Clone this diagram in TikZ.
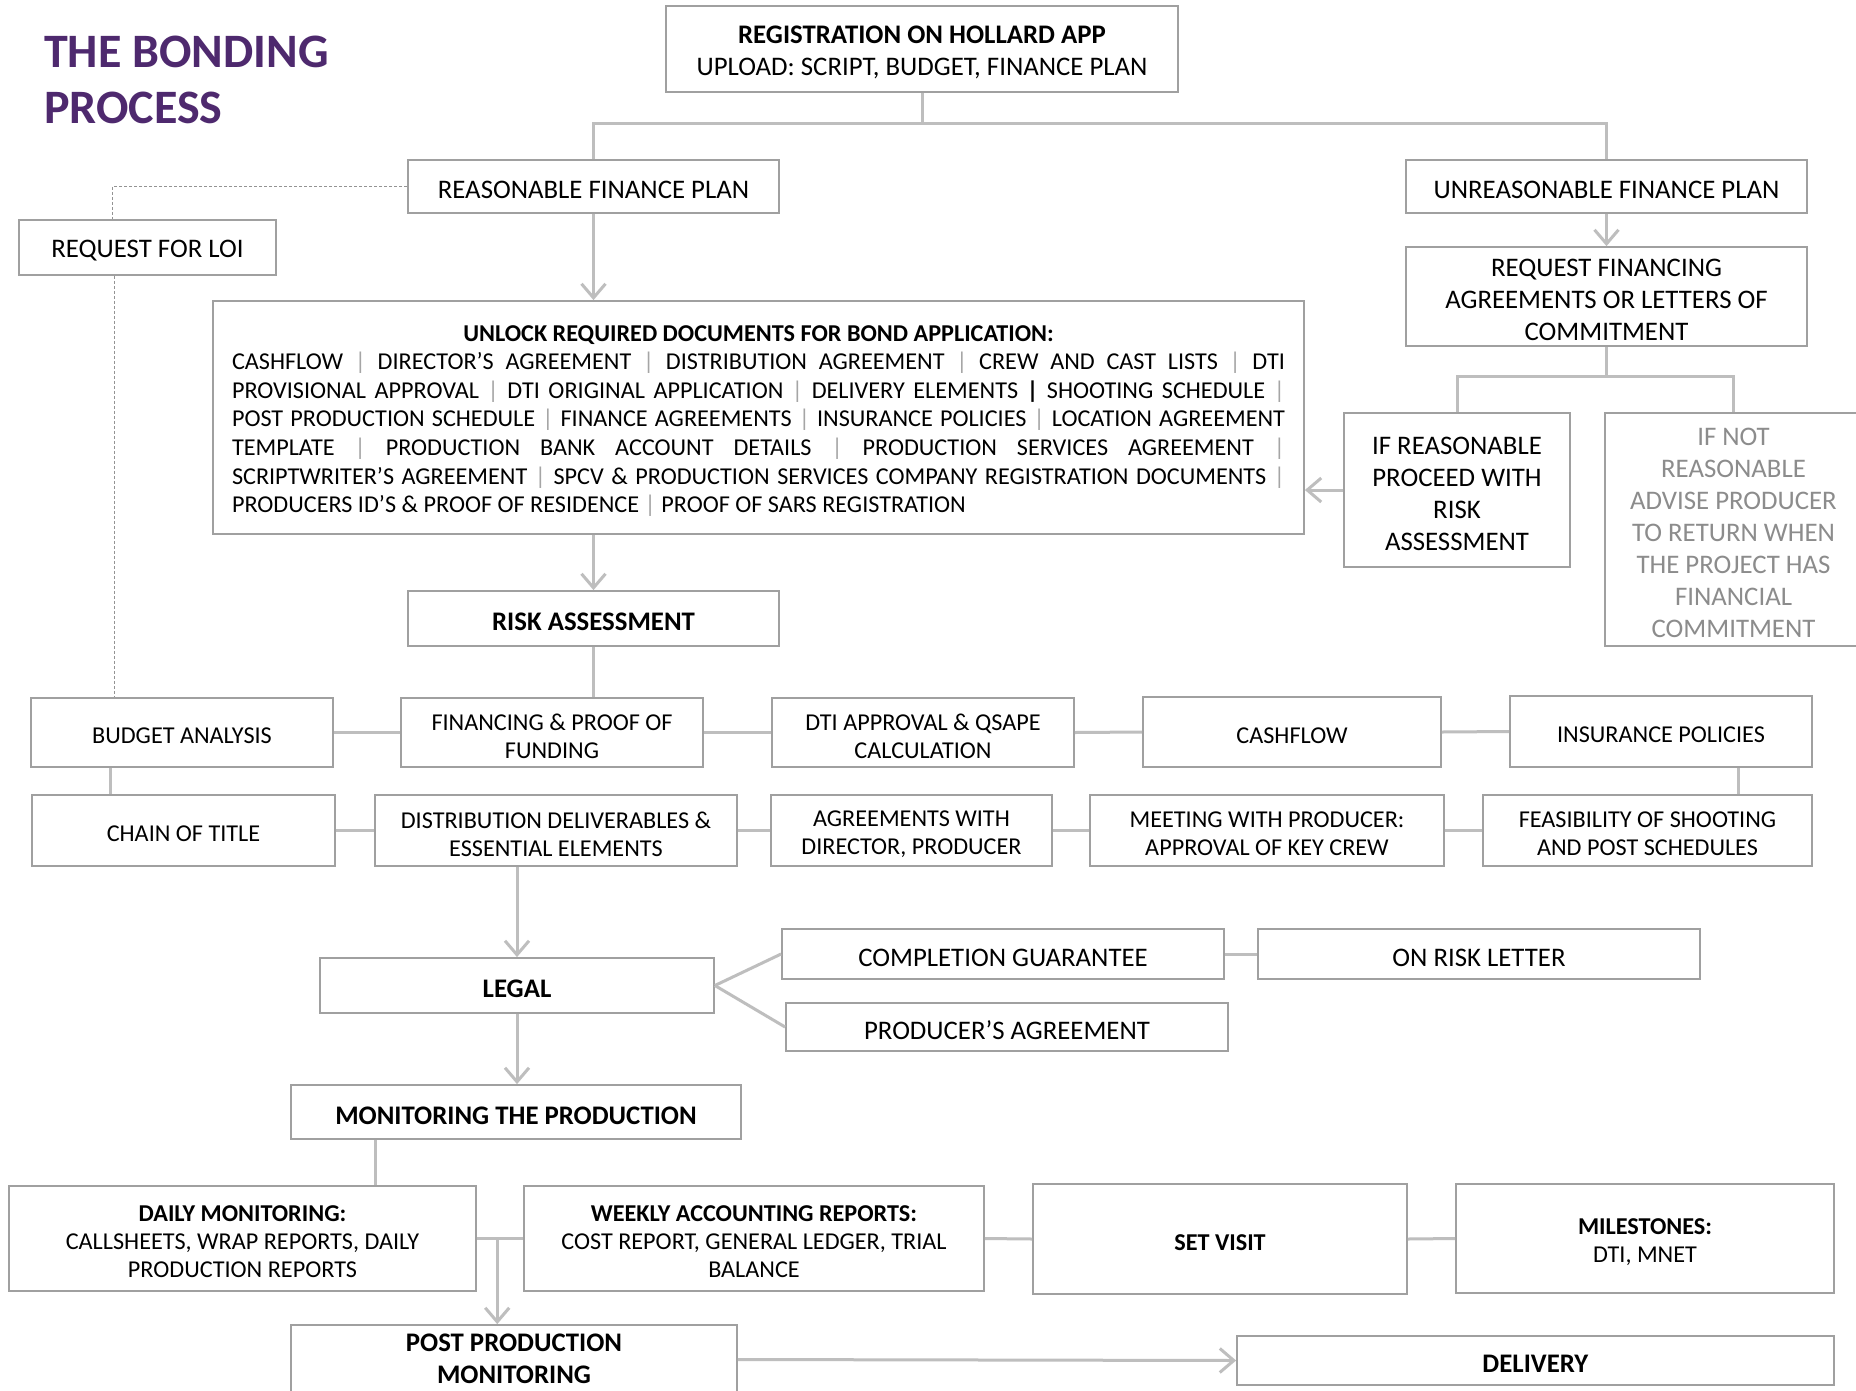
\documentclass[tikz,border=0pt]{standalone}
\usepackage{fontspec}
\setmainfont{Carlito}
\usetikzlibrary{arrows.meta,calc}
\definecolor{titlepurple}{RGB}{78,41,110}
\definecolor{boxgray}{RGB}{160,160,160}
\definecolor{linegray}{RGB}{190,190,190}
\definecolor{sepgray}{RGB}{165,165,165}
\definecolor{notgray}{RGB}{140,140,140}
\newcommand\fbig{\fontsize{26.8}{32}\selectfont}
\newcommand\fsmall{\fontsize{24.2}{28}\selectfont}
\newcommand\gbar{\textcolor{sepgray}{|}}
\newcommand\drawbox[7][]{%
  \pgfmathsetmacro\dbxc{(#3+#5)/2}%
  \pgfmathsetmacro\dbyc{(#4+#6)/2}%
  \pgfmathsetmacro\dbw{#5-#3}%
  \pgfmathsetmacro\dbh{#6-#4}%
  \node[box,minimum width=\dbw pt,minimum height=\dbh pt] (#2) at (\dbxc,\dbyc) {};
  \node[boxtext,#1] (#2-t) at ([yshift=-3.5pt]#2.center) {#7};}
\tikzset{
  box/.style={draw=boxgray, line width=1.8pt, fill=white, inner sep=0pt},
  boxtext/.style={align=center, inner sep=0pt, font=\fbig, text=black},
  conn/.style={draw=linegray, line width=3pt},
  arrowconn/.style={conn, -{Straight Barb[length=14pt,width=24pt]}},
  dotline/.style={draw=gray!85, line width=0.9pt, dash pattern=on 3pt off 2pt},
}
\begin{document}
\begin{tikzpicture}[x=1pt,y=-1pt]
\useasboundingbox (0,0) rectangle (1856,1390);
\clip (0,0) rectangle (1856,1390);
\fill[white] (0,0) rectangle (1856,1390);

% title
\node[anchor=base west, inner sep=0pt, font=\fontsize{48}{56}\selectfont\bfseries, text=titlepurple] (t1) at (44,67) {THE BONDING};
\node[anchor=base west, inner sep=0pt, font=\fontsize{48}{56}\selectfont\bfseries, text=titlepurple] (t2) at (44,123) {PROCESS};

% top part
\drawbox{reg}{666}{6}{1178}{92}{\textbf{REGISTRATION ON HOLLARD APP}\\UPLOAD: SCRIPT, BUDGET, FINANCE PLAN}
\drawbox{reas}{408}{160}{779}{213}{REASONABLE FINANCE PLAN}
\drawbox{unreas}{1406}{160}{1807}{213}{UNREASONABLE FINANCE PLAN}
\drawbox{loi}{19}{220}{276}{275}{REQUEST FOR LOI}
\drawbox{reqfin}{1406}{247}{1807}{346}{REQUEST FINANCING\\AGREEMENTS OR LETTERS OF\\COMMITMENT}
\drawbox{ifreas}{1344}{413}{1570}{567}{IF REASONABLE\\PROCEED WITH\\RISK\\ASSESSMENT}
\drawbox[text=notgray]{ifnot}{1605}{413}{1862}{646}{IF NOT\\REASONABLE\\ADVISE PRODUCER\\TO RETURN WHEN\\THE PROJECT HAS\\FINANCIAL\\COMMITMENT}

\drawbox{unlock}{213}{301}{1304}{534}{\begin{minipage}{1053pt}\fontsize{24.2}{28.6}\selectfont
{\centering\textbf{UNLOCK REQUIRED DOCUMENTS FOR BOND APPLICATION:}\par}
\makebox[\linewidth][s]{CASHFLOW \gbar{} DIRECTOR’S AGREEMENT \gbar{} DISTRIBUTION AGREEMENT \gbar{} CREW AND CAST LISTS \gbar{} DTI}\par
\makebox[\linewidth][s]{PROVISIONAL APPROVAL \gbar{} DTI ORIGINAL APPLICATION \gbar{} DELIVERY ELEMENTS \textbf{|} SHOOTING SCHEDULE \gbar}\par
\makebox[\linewidth][s]{POST PRODUCTION SCHEDULE \gbar{} FINANCE AGREEMENTS \gbar{} INSURANCE POLICIES \gbar{} LOCATION AGREEMENT}\par
\makebox[\linewidth][s]{TEMPLATE \gbar{} PRODUCTION BANK ACCOUNT DETAILS \gbar{} PRODUCTION SERVICES AGREEMENT \gbar}\par
\makebox[\linewidth][s]{SCRIPTWRITER’S AGREEMENT \gbar{} SPCV \& PRODUCTION SERVICES COMPANY REGISTRATION DOCUMENTS \gbar}\par
PRODUCERS ID’S \& PROOF OF RESIDENCE \gbar{} PROOF OF SARS REGISTRATION\par
\end{minipage}}

\drawbox{risk}{408}{591}{779}{646}{\textbf{RISK ASSESSMENT}}

% row 1
\drawbox[font=\fsmall]{budget}{31}{698}{333}{767}{BUDGET ANALYSIS}
\drawbox[font=\fsmall]{fin}{401}{698}{703}{767}{FINANCING \& PROOF OF\\FUNDING}
\drawbox[font=\fsmall]{dti}{772}{698}{1074}{767}{DTI APPROVAL \& QSAPE\\CALCULATION}
\drawbox[font=\fsmall]{cash}{1143}{697}{1441}{767}{CASHFLOW}
\drawbox[font=\fsmall]{ins}{1510}{696}{1812}{767}{INSURANCE POLICIES}

% row 2
\drawbox[font=\fsmall]{chain}{32}{795}{335}{866}{CHAIN OF TITLE}
\drawbox[font=\fsmall]{dist}{375}{795}{737}{866}{DISTRIBUTION DELIVERABLES \&\\ESSENTIAL ELEMENTS}
\drawbox[font=\fsmall]{agree}{771}{795}{1052}{866}{AGREEMENTS WITH\\DIRECTOR, PRODUCER}
\drawbox[font=\fsmall]{meet}{1090}{795}{1444}{866}{MEETING WITH PRODUCER:\\APPROVAL OF KEY CREW}
\drawbox[font=\fsmall]{feas}{1483}{795}{1812}{866}{FEASIBILITY OF SHOOTING\\AND POST SCHEDULES}

% legal
\drawbox{legal}{320}{958}{714}{1013}{\textbf{LEGAL}}
\drawbox{comp}{782}{929}{1224}{979}{COMPLETION GUARANTEE}
\drawbox{onrisk}{1258}{929}{1700}{979}{ON RISK LETTER}
\drawbox{prod}{786}{1003}{1228}{1051}{PRODUCER’S AGREEMENT}

\drawbox{monit}{291}{1085}{741}{1139}{\textbf{MONITORING THE PRODUCTION}}

% row 3
\drawbox[font=\fsmall]{daily}{9}{1186}{476}{1291}{\textbf{DAILY MONITORING:}\\CALLSHEETS, WRAP REPORTS, DAILY\\PRODUCTION REPORTS}
\drawbox[font=\fsmall]{weekly}{524}{1186}{984}{1291}{\textbf{WEEKLY ACCOUNTING REPORTS:}\\COST REPORT, GENERAL LEDGER, TRIAL\\BALANCE}
\drawbox[font=\fsmall]{setv}{1033}{1184}{1407}{1294}{\textbf{SET VISIT}}
\drawbox[font=\fsmall]{miles}{1456}{1184}{1834}{1293}{\textbf{MILESTONES:}\\DTI, MNET}

% post production box runs off the bottom edge
\node[box, minimum width=446pt, minimum height=85pt] (post) at (514,1367.5) {};
\node[boxtext] (post-t) at (514,1359) {\textbf{POST PRODUCTION}\\\textbf{MONITORING}};
\drawbox{delivery}{1237}{1336}{1834}{1385}{\textbf{DELIVERY}}

% connectors
\draw[conn] (reg.south) -- ++(0,31) coordinate (j1);
\draw[conn] (j1) -| (reas.north);
\draw[conn] (j1) -| (unreas.north);
\draw[dotline] (reas.west) -| ([xshift=-35pt]loi.north);
\draw[dotline] ([xshift=-33pt]loi.south) -- ([xshift=-33pt]loi.south |- budget.north);
\draw[arrowconn] (reas.south) -- (reas.south |- unlock.north);
\draw[arrowconn] (unreas.south) -- (reqfin.north);
\draw[conn] (reqfin.south) -- ++(0,30) coordinate (j2);
\draw[conn] (j2) -| (ifreas.north);
\draw[conn] (j2) -| (ifnot.north);
\draw[arrowconn] (ifreas.west) -- (ifreas.west -| unlock.east);
\draw[arrowconn] (risk.north |- unlock.south) -- (risk.north);
\draw[conn] (risk.south) -- (risk.south |- fin.north);

\draw[conn] (budget.east) -- (fin.west);
\draw[conn] (fin.east) -- (dti.west);
\draw[conn] (dti.east) -- (cash.west);
\draw[conn] (cash.east) -- (ins.west);
\draw[conn] ([xshift=80pt]budget.south west) -- ([xshift=80pt]budget.south west |- chain.north);
\draw[conn] ([xshift=-74pt]ins.south east) -- ([xshift=-74pt]ins.south east |- feas.north);
\draw[conn] (chain.east) -- (dist.west);
\draw[conn] (dist.east) -- (agree.west);
\draw[conn] (agree.east) -- (meet.west);
\draw[conn] (meet.east) -- (feas.west);

\draw[arrowconn] (legal.north |- dist.south) -- (legal.north);
\draw[conn] (legal.east) -- (comp.west);
\draw[conn] (legal.east) -- (prod.west);
\draw[conn] (comp.east) -- (onrisk.west);
\draw[arrowconn] (legal.south) -- (legal.south |- monit.north);
\draw[conn] ([xshift=85pt]monit.south west) -- ([xshift=85pt]monit.south west |- daily.north);

\draw[conn] (daily.east) -- coordinate[pos=0.44] (j3) (weekly.west);
\draw[arrowconn] (j3) -- (j3 |- post.north);
\draw[conn] (weekly.east) -- (setv.west);
\draw[conn] (setv.east) -- (miles.west);
\draw[arrowconn] ([yshift=8pt]post.east) -- (delivery.west);
\end{tikzpicture}
\end{document}
